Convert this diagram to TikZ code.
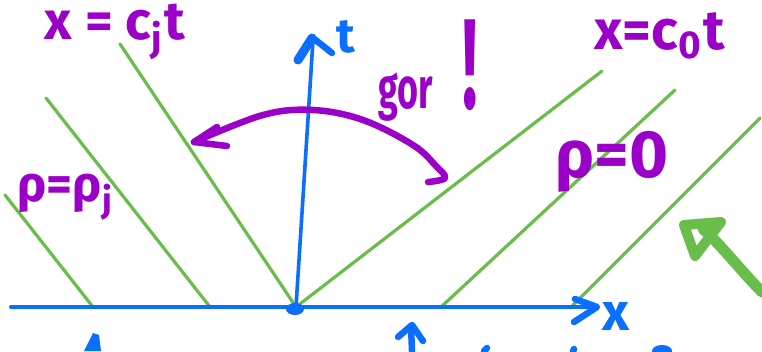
\documentclass[tikz,border=0pt]{standalone}
\usepackage{fontspec}
\setmainfont{Fira Sans}
\definecolor{pur}{RGB}{155,0,200}
\definecolor{blu}{RGB}{10,110,255}
\definecolor{grn}{RGB}{105,190,75}
\begin{document}
\begin{tikzpicture}[x=1pt,y=-1pt,
  gline/.style={grn, line width=3.2pt, line cap=round},
  bline/.style={blu, line width=4pt, line cap=round},
  bpen/.style={blu, line width=6.5pt, line cap=round, line join=round},
  ppen/.style={pur, line width=6.5pt, line cap=round, line join=round},
  gpen/.style={grn, line width=10pt, line cap=round, line join=round},
  ptxt/.style={pur, font=\bfseries, inner sep=0pt},
  btxt/.style={blu, font=\bfseries, inner sep=0pt}]
\useasboundingbox (0,0) rectangle (762,351);
\fill[white] (0,0) rectangle (762,351);
% coordinates
\coordinate (O) at (296,307);
\coordinate (xs) at (11,307);
\coordinate (xe) at (594,307);
\coordinate (te) at (313,40);
% green characteristic lines
\coordinate (l1a) at (5,195);   \coordinate (l1b) at (93,307);
\coordinate (l2a) at (46,98);   \coordinate (l2b) at (210,307);
\coordinate (l3a) at (120,44);
\coordinate (r1b) at (602,71);
\coordinate (r2a) at (441,307); \coordinate (r2b) at (675,90);
\coordinate (r3a) at (571,307); \coordinate (r3b) at (760,118);
\draw[gline] (l1a) -- (l1b);
\draw[gline] (l2a) -- (l2b);
\draw[gline] (l3a) -- (O);
\draw[gline] (O) -- (r1b);
\draw[gline] (r2a) -- (r2b);
\draw[gline] (r3a) -- (r3b);
% axes
\draw[bline] (xs) -- (xe);
\draw[bpen] (575,299) -- (597,307) -- (574,322);
\draw[bline, line width=3.6pt] (O) -- (te);
\draw[blu, line width=9pt, line cap=round] (298,60) -- (312,38);
\draw[bpen] (313,38) -- (332,53);
\fill[blu] (295,309) ellipse (9pt and 6pt);
% axis labels
\node[btxt] (tl) at (346,37) {\resizebox{!}{32pt}{t}};
\node[btxt] (xl) at (616,316) {\resizebox{!}{28pt}{x}};
% purple arc arrow
\draw[ppen] plot[smooth, tension=0.6] coordinates {(428,182) (445,178) (436,166) (413,145) (363,120) (313,110) (263,115) (194,142)};
\draw[ppen] (217,127) -- (194,142) -- (227,146);
% green big arrow
\draw[grn, line width=11pt, line cap=round] (762,292) .. controls (742,272) and (722,246) .. (703,229);
\draw[gpen] (684,225) -- (721,222) -- (695,256) -- cycle;
% purple labels
\node[ptxt] (eqj) at (115,32) {\resizebox{140pt}{!}{x = c\textsubscript{j}t}};
\node[ptxt] (rhoj) at (66,197) {\resizebox{97pt}{!}{ρ=ρ\textsubscript{j}}};
\node[ptxt, anchor=base west] (go) at (378,108) {\scalebox{0.62}[1]{\fontsize{58}{58}\selectfont gor}\hspace{30pt}\scalebox{0.5}[1]{\fontsize{128}{128}\selectfont !}};
\node[ptxt] (eq0) at (660,36) {\resizebox{130pt}{!}{x=c\textsubscript{0}t}};
\node[ptxt] (rho0) at (612,162) {\resizebox{113pt}{!}{ρ=0}};
% partial marks at the bottom edge
\fill[blu] (84,351) -- (93,333) -- (99,335) -- (101,351) -- cycle;
\draw[bpen] (412,351) -- (411,326);
\draw[bpen] (398,337) -- (412,325) -- (423,341);
\draw[bpen] (484,351) -- (487,348);
\draw[bpen] (573,351) -- (574,349);
\fill[blu] (662,351) ellipse (10pt and 6pt);
\end{tikzpicture}
\end{document}
